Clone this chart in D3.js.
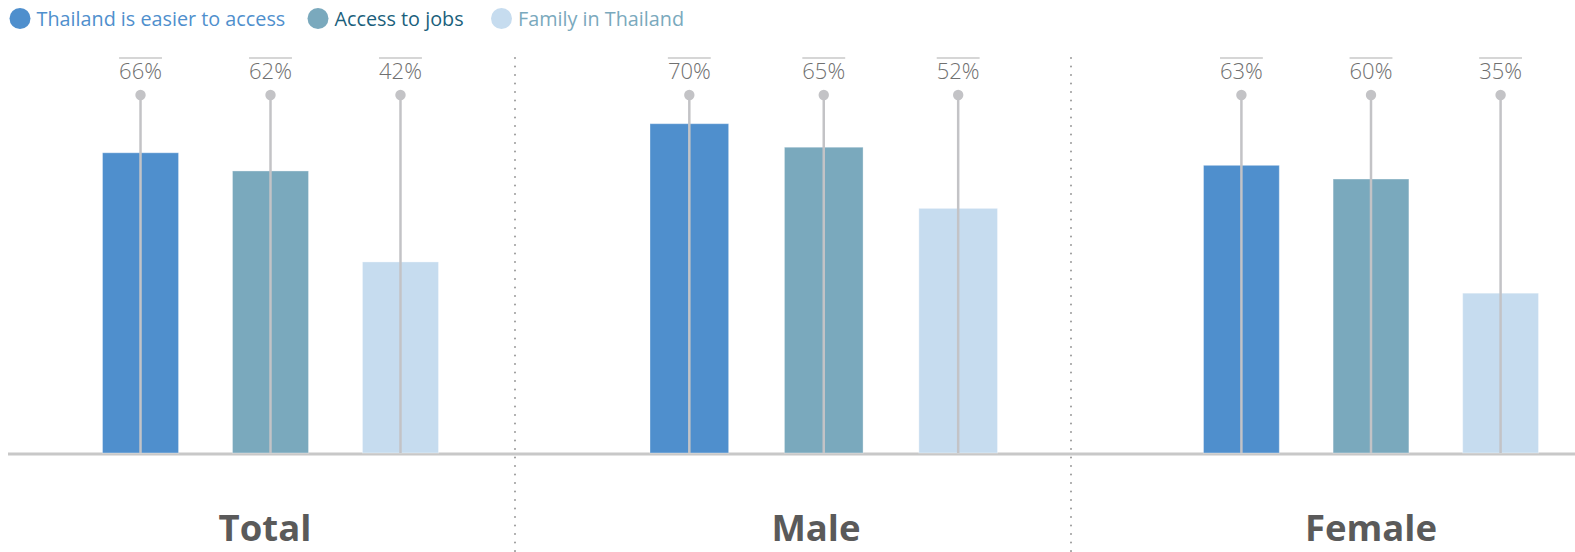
<!DOCTYPE html>
<html lang="en">
<head>
    <meta charset="UTF-8">
    <script src="https://d3js.org/d3.v7.min.js"></script>
    <title>Reasons</title>
    <style>
    body{
        margin: 0;
        background: #fff;
    }
    svg{
        display: block;
        font-family: "Open Sans", "Noto Sans", sans-serif;
    }
    </style>
</head>
<body>
    <svg width="1575" height="552"></svg>
</body>
<script>
    // data
    const groups = ["Total", "Male", "Female"]
    const series = ["Thailand is easier to access", "Access to jobs", "Family in Thailand"]
    const easierAccess = [66, 70, 63]
    const accessJobs = [62, 65, 60]
    const familyThailand = [42, 52, 35]

    // look
    const fills = ["#4f8fcd", "#7aa9bd", "#c6dcef"]
    const legendText = ["#4f8fcd", "#1b5f7c", "#7aa9bd"]
    const grey = "#c3c3c6"

    // layout, one entry per panel
    const panelRange = [[102.5, 438.5], [650, 997.5], [1203.5, 1538.5]]
    const panelMax = [78.7, 76.1, 78.4]
    const labelX = [265, 816, 1371]
    const dividerX = [515, 1071]
    const baseY = 453, pinY = 95

    const svg = d3.select("svg")
    const values = [easierAccess, accessJobs, familyThailand]

    // legend
    const legend = svg.append("g")
    const legendX = [20, 318, 501.5]
    series.forEach((s, i) => {
        legend.append("circle").attr("cx", legendX[i]).attr("cy", 18.5).attr("r", 10.5).attr("fill", fills[i])
        legend.append("text").attr("x", legendX[i] + 16.5).attr("y", 25.5)
            .attr("font-size", 19.8).attr("fill", legendText[i]).text(s)
    })

    // dividers
    svg.selectAll(".divider").data(dividerX).enter().append("line")
        .attr("x1", d => d).attr("x2", d => d).attr("y1", 58).attr("y2", 552)
        .attr("stroke", "#9a9a9a").attr("stroke-width", 2)
        .attr("stroke-linecap", "round").attr("stroke-dasharray", "0.1,8.4")

    // baseline
    svg.append("line").attr("x1", 8).attr("x2", 1575).attr("y1", baseY + 1).attr("y2", baseY + 1)
        .attr("stroke", "#c8c8c8").attr("stroke-width", 3)

    groups.forEach((g, gi) => {
        const x = d3.scaleBand().domain(series).range(panelRange[gi]).paddingInner(0.415).paddingOuter(0)
        const y = d3.scaleLinear().domain([0, panelMax[gi]]).range([baseY, pinY])
        const rows = series.map((s, si) => ({s: s, v: values[si][gi], c: fills[si]}))
        const p = svg.append("g")

        p.selectAll("rect").data(rows).enter().append("rect")
            .attr("x", d => x(d.s)).attr("width", x.bandwidth())
            .attr("y", d => y(d.v)).attr("height", d => baseY - y(d.v))
            .attr("fill", d => d.c)
            .attr("stroke", "rgba(255,255,255,0.35)").attr("stroke-width", 1)

        const cx = d => x(d.s) + x.bandwidth() / 2
        p.selectAll(".pin").data(rows).enter().append("line")
            .attr("x1", cx).attr("x2", cx).attr("y1", pinY).attr("y2", baseY)
            .attr("stroke", grey).attr("stroke-width", 2.5)
        p.selectAll(".head").data(rows).enter().append("circle")
            .attr("cx", cx).attr("cy", pinY).attr("r", 5.2).attr("fill", grey)

        const labels = p.selectAll(".val").data(rows).enter().append("text")
            .attr("x", cx).attr("y", 79).attr("text-anchor", "middle")
            .attr("font-size", 22).attr("font-weight", 300).attr("fill", "#707070")
            .text(d => d.v + "%")
        labels.each(function(d) {
            const w = this.getComputedTextLength()
            p.append("line").attr("x1", cx(d) - w / 2).attr("x2", cx(d) + w / 2)
                .attr("y1", 58).attr("y2", 58).attr("stroke", "#c8c8c8").attr("stroke-width", 1.5)
        })

        p.append("text").attr("x", labelX[gi]).attr("y", 541).attr("text-anchor", "middle")
            .attr("font-size", 36.5).attr("font-weight", 700).attr("fill", "#5a5a5a")
            .text(g)
    })
</script>
</html>
